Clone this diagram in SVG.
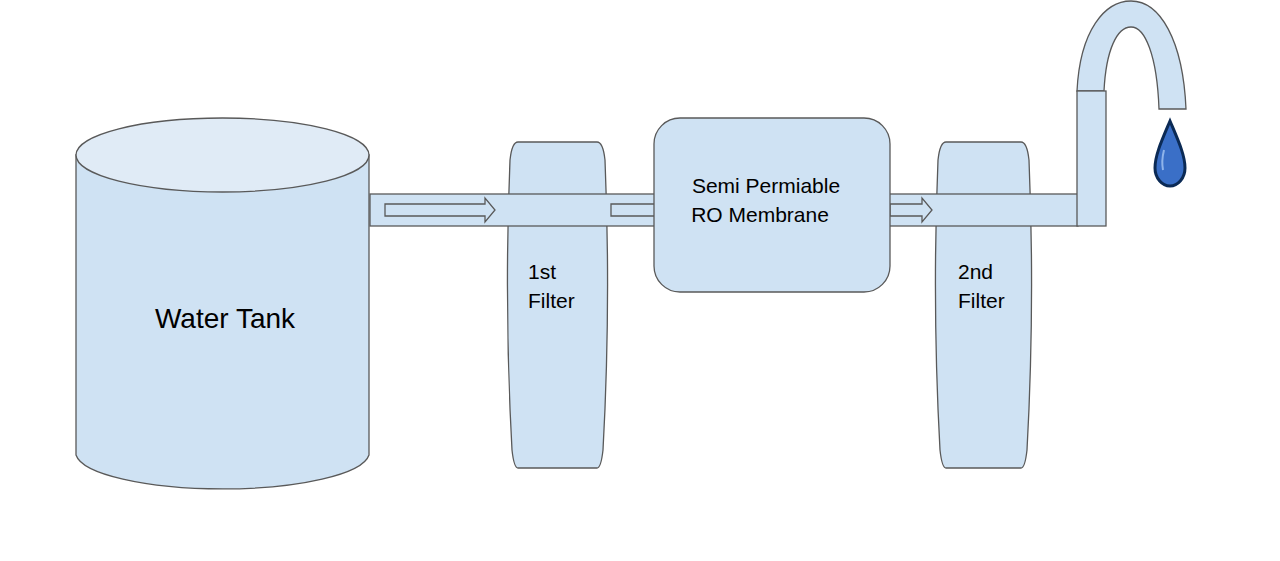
<svg xmlns="http://www.w3.org/2000/svg" width="1280" height="561" viewBox="0 0 1280 561">
<style>
.s{fill:#cfe2f3;stroke:#595959;stroke-width:1.3}
.t{font-family:"Liberation Sans",Arial,sans-serif;fill:#000}
</style>
<rect width="1280" height="561" fill="#fff"/>
<g id="tank">
<path class="s" d="M76,155 V455 A147,37 0 0 0 369,455 V155 Z"/>
<ellipse cx="222.5" cy="155" rx="146.5" ry="37" fill="#e0ebf6" stroke="#595959" stroke-width="1.3"/>
<text class="t" x="225" y="328" font-size="28" text-anchor="middle">Water Tank</text>
</g>
<g id="filter1">
<path class="s" d="M518,142 H597 Q603,142 605,160 Q611,305 603,450 Q601,468 597,468 H518 Q514,468 512,450 Q504,305 510,160 Q512,142 518,142 Z"/>
</g>
<g id="filter2">
<path class="s" d="M946,142 H1021 Q1027,142 1029,160 Q1035,305 1027,450 Q1025,468 1021,468 H946 Q942,468 940,450 Q932,305 938,160 Q940,142 946,142 Z"/>
</g>
<g id="connectors">
<rect class="s" x="370" y="194" width="708" height="32"/>
<path class="s" d="M385,204 H485 V198 L495,210 L485,222 V216 H385 Z"/>
<path class="s" d="M611,204 H660 V216 H611 Z"/>
<path class="s" d="M890,204 H922 V198 L932,210 L922,222 V216 H890 Z"/>
</g>
<g id="filter1-label"><text class="t" font-size="21" x="528" y="279">1st</text><text class="t" font-size="21" x="528" y="308">Filter</text></g>
<g id="filter2-label"><text class="t" font-size="21" x="958" y="279">2nd</text><text class="t" font-size="21" x="958" y="308">Filter</text></g>
<g id="membrane">
<rect class="s" x="654" y="118" width="236" height="174" rx="26"/>
<text class="t" font-size="21" x="766" y="193" text-anchor="middle">Semi Permiable</text>
<text class="t" font-size="21" x="760" y="222" text-anchor="middle">RO Membrane</text>
</g>
<g id="faucet">
<path class="s" d="M1077,91 C1080,30 1105,1 1131,1 C1160,1 1183,40 1186,109 H1159 C1157,55 1145,27 1131,27 C1117,27 1106,50 1104,91 Z"/>
<rect class="s" x="1077" y="91" width="29" height="135"/>
</g>
<g id="drop">
<path d="M1170,121 C1162,140 1155,155 1155,168 C1155,178 1162,186 1170,186 C1178,186 1185,178 1185,168 C1185,155 1178,140 1170,121 Z" fill="#3a6fc7" stroke="#0b2a55" stroke-width="3"/>
<path d="M1164,150 C1162,158 1162,165 1163,170" stroke="#8fb4ea" stroke-width="2" fill="none"/>
</g>
</svg>
